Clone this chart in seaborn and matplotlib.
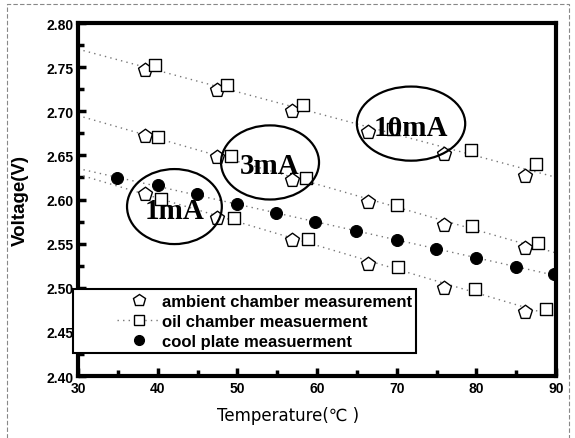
import numpy as np
import pandas as pd
import matplotlib
matplotlib.use("Agg")
import matplotlib.pyplot as plt
import seaborn as sns
from matplotlib.lines import Line2D
from matplotlib.legend_handler import HandlerLine2D
from matplotlib.patches import Ellipse, Rectangle

sns.set_style("ticks")
plt.rcParams["font.family"] = ["Liberation Sans", "DejaVu Sans"]
plt.rcParams["text.color"] = "black"
plt.rcParams["axes.labelcolor"] = "black"
plt.rcParams["axes.edgecolor"] = "black"

# ambient chamber (pentagons)
amb_temp = [38.4, 47.5, 56.8, 66.4, 75.9, 86.1]
amb_1ma = [2.606, 2.579, 2.554, 2.527, 2.500, 2.472]
amb_3ma = [2.672, 2.648, 2.622, 2.597, 2.571, 2.545]
amb_10ma = [2.747, 2.724, 2.700, 2.676, 2.652, 2.627]

# oil chamber (squares)
oil_temp_1ma = [40.4, 49.6, 58.9, 70.2, 79.8, 88.8]
oil_1ma = [2.601, 2.579, 2.555, 2.523, 2.499, 2.476]
oil_temp_3ma = [40.0, 49.2, 58.6, 70.1, 79.4, 87.7]
oil_3ma = [2.671, 2.649, 2.624, 2.594, 2.570, 2.551]
oil_temp_10ma = [39.7, 48.7, 58.2, 69.5, 79.3, 87.5]
oil_10ma = [2.752, 2.730, 2.707, 2.680, 2.656, 2.640]

# cool plate, 1mA (filled circles)
cool_temp = [34.9, 40.0, 44.9, 50.0, 54.9, 59.8, 64.9, 70.0, 74.9, 79.9, 85.0, 89.7]
cool_1ma = [2.624, 2.616, 2.606, 2.595, 2.585, 2.574, 2.564, 2.554, 2.544, 2.534, 2.523, 2.516]

labels = ["ambient chamber measurement", "oil chamber measuerment", "cool plate measuerment"]
current_tags = ["1mA", "3mA", "10mA"]
# ellipse centres / sizes in data units
tag_x = [42.1, 54.1, 71.8]
tag_y = [2.592, 2.642, 2.686]
tag_w = [11.9, 12.3, 13.6]
tag_h = [0.085, 0.084, 0.084]

fig = plt.figure(figsize=(5.75, 4.39), dpi=100)
ax = fig.add_axes([0.1357, 0.1412, 0.8313, 0.8041])
ax.set_xlim(30, 90)
ax.set_ylim(2.40, 2.80)

# dotted linear fits for each current
groups = [
    (amb_temp + oil_temp_1ma, amb_1ma + oil_1ma),
    (amb_temp + oil_temp_3ma, amb_3ma + oil_3ma),
    (amb_temp + oil_temp_10ma, amb_10ma + oil_10ma),
    (cool_temp, cool_1ma),
]
for gx, gy in groups:
    sns.regplot(x=np.array(gx), y=np.array(gy), ax=ax, scatter=False, ci=None,
                truncate=False, line_kws=dict(color="#777777", lw=1.0, ls=(0, (1, 3))))

for amb in [amb_1ma, amb_3ma, amb_10ma]:
    sns.scatterplot(x=amb_temp, y=amb, ax=ax, marker="p", s=110,
                    fc="white", ec="black", linewidth=1.0, zorder=3)
for ot, ov in [(oil_temp_1ma, oil_1ma), (oil_temp_3ma, oil_3ma), (oil_temp_10ma, oil_10ma)]:
    sns.scatterplot(x=ot, y=ov, ax=ax, marker="s", s=70,
                    fc="white", ec="black", linewidth=1.0, zorder=3)
sns.scatterplot(x=cool_temp, y=cool_1ma, ax=ax, marker="o", s=75,
                color="black", ec="black", zorder=3)

for tx, ty, tw, th, tag in zip(tag_x, tag_y, tag_w, tag_h, current_tags):
    ax.add_patch(Ellipse((tx, ty), tw, th, fill=False, ec="black", lw=1.6, zorder=4))
    ax.text(tx, ty - 0.004, tag, ha="center", va="center", fontsize=21, color="black",
            fontweight="bold", family="Liberation Serif", zorder=5)

handles = [
    Line2D([], [], ls="none", marker="p", ms=9, mfc="white", mec="black"),
    Line2D([], [], color="#777777", ls=(0, (1, 3)), lw=1, marker="s", ms=7,
           mfc="white", mec="black"),
    Line2D([], [], ls="none", marker="o", ms=7, color="black"),
]
hmap = {h: HandlerLine2D(xpad=2.4) for h in handles}
leg = ax.legend(handles, labels, loc="lower left", bbox_to_anchor=(-0.0105, 0.066),
                borderaxespad=0, frameon=True, fancybox=False, edgecolor="black",
                framealpha=1, prop=dict(weight="bold", size=12), handlelength=5,
                handler_map=hmap, borderpad=0.25, labelspacing=0.3, handletextpad=0.1)
leg.get_frame().set_linewidth(1.5)

ax.set_xticks(np.arange(30, 91, 10))
ax.set_xticks(np.arange(30, 91, 5), minor=True)
ax.set_yticks(np.arange(2.40, 2.801, 0.05))
ax.set_yticks(np.arange(2.40, 2.801, 0.025), minor=True)
ax.yaxis.set_major_formatter(matplotlib.ticker.FormatStrFormatter("%.2f"))
ax.tick_params(which="both", direction="in", width=2.5, colors="black")
ax.tick_params(which="major", length=6, labelsize=10)
ax.tick_params(which="minor", length=4)
for lbl in ax.get_xticklabels() + ax.get_yticklabels():
    lbl.set_fontweight("bold")
for sp in ax.spines.values():
    sp.set_visible(True)
    sp.set_linewidth(3)

ax.set_xlabel("Temperature(℃ )", fontsize=12, family="DejaVu Sans", labelpad=8, x=0.44)
ax.set_ylabel("Voltage(V)", fontsize=13.5, fontweight="bold", labelpad=12)

fig.patches.append(Rectangle((0.012, -0.02), 0.978, 1.008, transform=fig.transFigure,
                             fill=False, ec="#888888", lw=0.8, ls=(0, (4, 2))))

fig.savefig("out.png", dpi=100)
